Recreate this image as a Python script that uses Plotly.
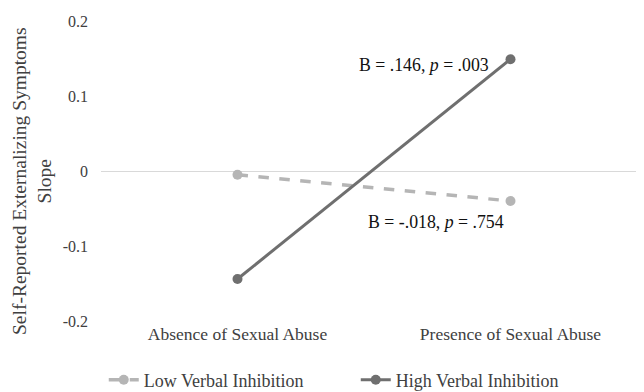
import plotly.graph_objects as go

categories = ["Absence of Sexual Abuse", "Presence of Sexual Abuse"]
low_vi = [-0.005, -0.040]
high_vi = [-0.144, 0.149]
y_ticks = [-0.2, -0.1, 0, 0.1, 0.2]
y_tick_labels = ["-0.2", "-0.1", "0", "0.1", "0.2"]

xpos = list(range(len(categories)))
font_fam = "Liberation Serif, Times New Roman, serif"

fig = go.Figure()
fig.add_trace(go.Scatter(
    x=xpos, y=low_vi, name="Low Verbal Inhibition", mode="lines+markers",
    line=dict(color="#b5b5b5", width=3.5, dash="dash"),
    marker=dict(color="#b5b5b5", size=10),
))
fig.add_trace(go.Scatter(
    x=xpos, y=high_vi, name="High Verbal Inhibition", mode="lines+markers",
    line=dict(color="#6f6f6f", width=3),
    marker=dict(color="#6f6f6f", size=10),
))

fig.add_annotation(x=xpos[1], y=high_vi[1], text="B = .146, <i>p</i> = .003",
                   showarrow=False, xanchor="right", yanchor="middle",
                   xshift=-20, yshift=-6, font=dict(size=17.8, color="#111111", family=font_fam))
fig.add_annotation(x=xpos[1], y=low_vi[1], text="B = -.018, <i>p</i> = .754",
                   showarrow=False, xanchor="right", yanchor="middle",
                   xshift=-5, yshift=-21, font=dict(size=17.8, color="#111111", family=font_fam))

# y-axis title as rotated annotation (offset below centre as in the reference)
fig.add_annotation(xref="paper", yref="paper", x=0, y=0.5,
                   text="Self-Reported Externalizing Symptoms<br>Slope",
                   textangle=-90, showarrow=False, xanchor="right", yanchor="middle",
                   xshift=-44, yshift=-10,
                   font=dict(size=19.5, color="#404040", family=font_fam))

fig.update_layout(
    width=644, height=392,
    margin=dict(l=93, r=5, t=13, b=79, autoexpand=False),
    paper_bgcolor="white", plot_bgcolor="white",
    font=dict(family=font_fam, size=17.5, color="#404040"),
    showlegend=True,
    legend=dict(orientation="h", xref="container", yref="container",
                x=0.54, xanchor="center", y=0.051, yanchor="middle",
                font=dict(size=18, color="#404040"),
                entrywidth=207, entrywidthmode="pixels",
                traceorder="normal"),
    xaxis=dict(range=[-0.5, 1.5], tickvals=xpos, ticktext=categories,
               showgrid=False, zeroline=False, showline=False, ticks="",
               tickfont=dict(size=17.5, color="#404040"), fixedrange=True),
    yaxis=dict(range=[-0.2, 0.2], tickvals=y_ticks, ticktext=y_tick_labels,
               showgrid=False, zeroline=True, zerolinecolor="#d9d9d9", zerolinewidth=1.2,
               showline=False, ticks="", ticklabelstandoff=12,
               tickfont=dict(size=16, color="#404040"),
               fixedrange=True),
)

fig.write_html("out.html")
